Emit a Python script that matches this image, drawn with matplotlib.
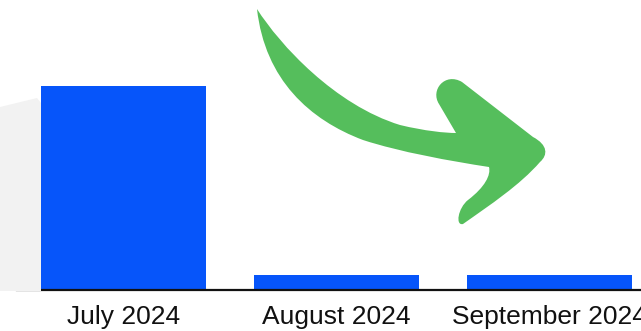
import matplotlib.pyplot as plt
from matplotlib.path import Path
from matplotlib.patches import PathPatch, Polygon
from matplotlib.transforms import Affine2D

# Data
months = ["July 2024", "August 2024", "September 2024"]
values = [100, 7.5, 7.5]

bar_color = "#0655FA"
arrow_color = "#55BE5C"
grey_color = "#F2F2F2"

W, H = 641, 331
fig = plt.figure(figsize=(W / 100, H / 100), dpi=100)
plt.rcParams['font.family'] = ['Liberation Sans', 'DejaVu Sans']

# pixel (from top-left) -> figure fraction
px = Affine2D().scale(1 / W, -1 / H).translate(0, 1) + fig.transFigure

# light grey backdrop shape on the left
grey = Polygon([(0, 107), (37, 98), (41, 103), (41, 291), (0, 291)],
               closed=True, facecolor=grey_color, edgecolor='none',
               transform=px, zorder=0)
fig.patches.append(grey)

# axes reaches past the right edge, the picture is cropped there
ax = fig.add_axes([17 / W, 1 - 290 / H, (656 - 17) / W, 290 / H])
ax.patch.set_visible(False)
x = range(len(months))
ax.bar(x, values, width=0.77, color=bar_color, zorder=2)
ax.set_xlim(-0.5, 2.5)
ax.set_ylim(0, 100 * 290 / 204)

for s in ['top', 'right', 'left']:
    ax.spines[s].set_visible(False)
ax.spines['bottom'].set_linewidth(1.6)
ax.spines['bottom'].set_color('#111111')
ax.set_yticks([])
ax.set_xticks(list(x))
ax.set_xticklabels(months, fontsize=19, color='#111111')
ax.tick_params(axis='x', length=0, pad=11)

# curved green arrow (decoration)
verts = [
    (257, 9),
    (280, 45), (335, 105), (400, 125),
    (425, 131), (445, 133), (456, 133),
    (439, 104),
    (430, 90), (445, 72), (462, 82),
    (533, 137),
    (548, 145), (548, 155), (540, 162),
    (520, 185), (490, 205), (463, 224),
    (455, 226), (458, 208), (468, 200),
    (485, 187), (491, 175), (489, 167),
    (450, 161), (400, 152), (363, 140),
    (310, 120), (265, 80), (257, 9),
    (257, 9),
]
codes = ([Path.MOVETO] + [Path.CURVE4] * 6 + [Path.LINETO] + [Path.CURVE4] * 3
         + [Path.LINETO] + [Path.CURVE4] * 18 + [Path.CLOSEPOLY])
arrow = PathPatch(Path(verts, codes), facecolor=arrow_color, edgecolor='none',
                  transform=px, zorder=3)
fig.patches.append(arrow)

plt.savefig("out.png", dpi=100)
